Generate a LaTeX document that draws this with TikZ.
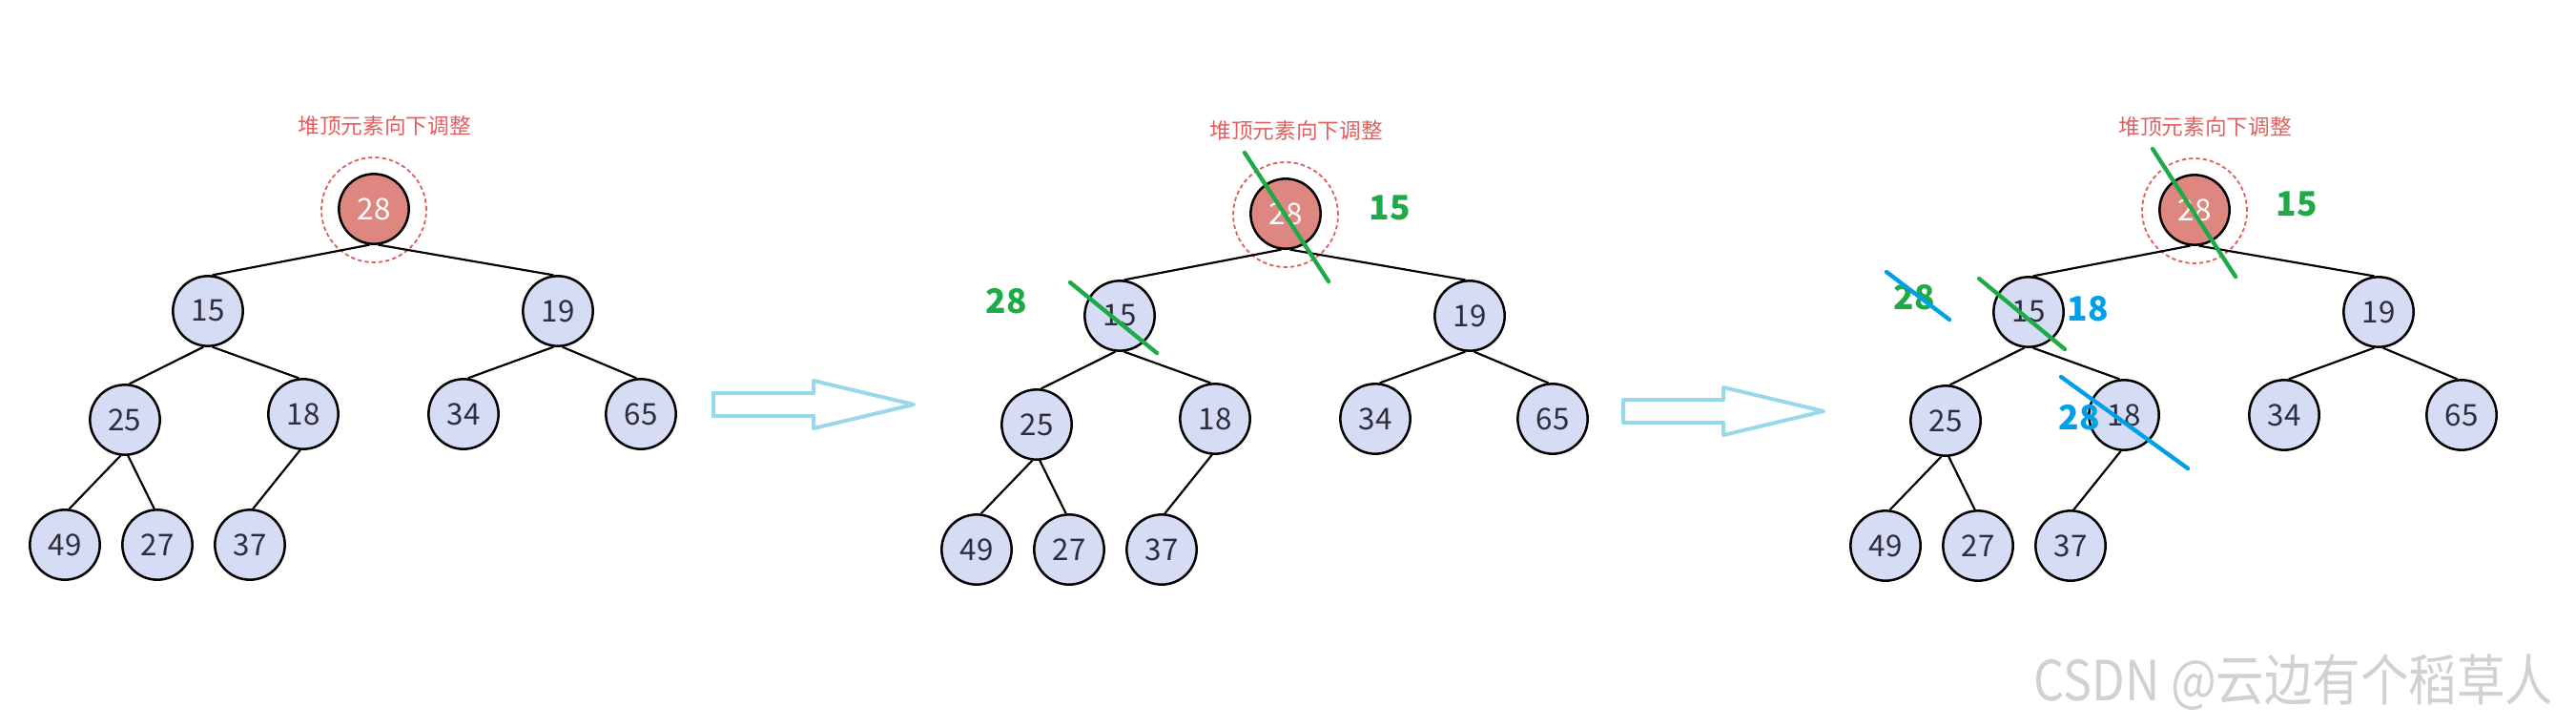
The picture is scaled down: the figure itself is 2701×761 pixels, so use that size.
\documentclass[tikz,border=0pt]{standalone}
\usepackage{fontspec}
\setmainfont{Noto Sans CJK SC}

\definecolor{nodeblue}{RGB}{214,220,243}
\definecolor{topred}{RGB}{222,134,128}
\definecolor{ringred}{RGB}{224,96,96}
\definecolor{numgray}{RGB}{45,45,60}
\definecolor{arrowblue}{RGB}{152,216,232}
\definecolor{cutgreen}{RGB}{30,170,70}
\definecolor{cutblue}{RGB}{0,160,233}

\begin{document}
\begin{tikzpicture}[x=0.3pt, y=-0.3pt,
    heapnode/.style={circle, draw=black, line width=0.75pt, fill=nodeblue, minimum size=22pt, inner sep=0pt, text=numgray, font=\fontsize{9.4}{10}\selectfont},
    topnode/.style={heapnode, fill=topred, text=white},
    ring/.style={circle, draw=ringred, dash pattern=on 1.3pt off 0.9pt, line width=0.55pt, minimum size=33pt, inner sep=0pt},
    tip/.style={text=ringred, font=\fontsize{6.8}{8}\selectfont},
    link/.style={line width=0.65pt},
    flow/.style={draw=arrowblue, line width=1.2pt, line join=round},
    cut/.style={line width=1.3pt, line cap=round},
    newval/.style={font=\bfseries\fontsize{10.6}{12}\selectfont}]
  \useasboundingbox (0,0) rectangle (2701,761);

  % the same heap, three times
  \foreach \t/\dx/\dy in {a/0/0, b/956/5, c/1909/1} {
    \begin{scope}[shift={(\dx,\dy)}]
      \node[tip] (\t-tip) at (403,132) {堆顶元素向下调整};
      \node[ring] (\t-ring) at (392,220) {};
      \node[topnode] (\t-28) at (392,219) {28};
      \node[heapnode] (\t-15) at (218,326) {15};
      \node[heapnode] (\t-19) at (585,326) {19};
      \node[heapnode] (\t-25) at (131,440) {25};
      \node[heapnode] (\t-18) at (318,434) {18};
      \node[heapnode] (\t-34) at (486,434) {34};
      \node[heapnode] (\t-65) at (672,434) {65};
      \node[heapnode] (\t-49) at (68,571) {49};
      \node[heapnode] (\t-27) at (165,571) {27};
      \node[heapnode] (\t-37) at (262,571) {37};

      \draw[link] (\t-28.-97) -- (\t-15.83);
      \draw[link] (\t-28.-83) -- (\t-19.97);
      \draw[link] (\t-15.-97) -- (\t-25.83);
      \draw[link] (\t-15.-83) -- (\t-18.97);
      \draw[link] (\t-19.-97) -- (\t-34.83);
      \draw[link] (\t-19.-83) -- (\t-65.97);
      \draw[link] (\t-25.-97) -- (\t-49.83);
      \draw[link] (\t-25.-85) -- (\t-27.95);
      \draw[link] (\t-18.-95) -- (\t-37.85);
    \end{scope}
  }

  % block arrows between the steps
  \foreach \dx/\dy in {0/0, 954/7} {
    \draw[flow, shift={(\dx,\dy)}] (748,412) -- (853,412) -- (853,399) -- (958,424)
      -- (853,449) -- (853,436) -- (748,436) -- cycle;
  }

  % step 2: 28 and 15 swapped
  \draw[cut, cutgreen] ([shift={(-43,-64)}]b-28.center) -- ([shift={(45,71)}]b-28.center);
  \node[newval, text=cutgreen] (b-new15) at ([shift={(109,-6)}]b-28.center) {15};
  \draw[cut, cutgreen] ([shift={(-52,-35)}]b-15.center) -- ([shift={(39,39)}]b-15.center);
  \node[newval, text=cutgreen] (b-new28) at ([shift={(-119,-15)}]b-15.center) {28};

  % step 3: then 28 and 18 swapped
  \draw[cut, cutgreen] ([shift={(-44,-64)}]c-28.center) -- ([shift={(43,70)}]c-28.center);
  \node[newval, text=cutgreen] (c-new15) at ([shift={(107,-6)}]c-28.center) {15};
  \draw[cut, cutgreen] ([shift={(-52,-35)}]c-15.center) -- ([shift={(38,39)}]c-15.center);
  \node[newval, text=cutgreen] (c-new28) at ([shift={(-120,-15)}]c-15.center) {28};
  \draw[cut, cutblue] ([shift={(-149,-42)}]c-15.center) -- ([shift={(-83,8)}]c-15.center);
  \node[newval, text=cutblue] (c-new18) at ([shift={(62,-3)}]c-15.center) {18};
  \node[newval, text=cutblue] (c-down28) at ([shift={(-47,3)}]c-18.center) {28};
  \draw[cut, cutblue] ([shift={(-66,-40)}]c-18.center) -- ([shift={(67,56)}]c-18.center);

  \node[text=black!18, font=\fontsize{17.4}{20}\selectfont] (csdn) at (2405,715) {\scalebox{0.87}[1]{CSDN @云边有个稻草人}};
\end{tikzpicture}
\end{document}
